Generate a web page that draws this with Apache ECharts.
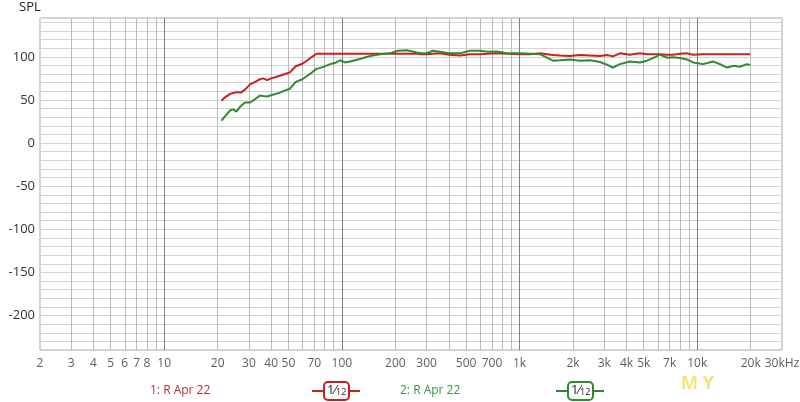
<!DOCTYPE html>
<html>
<head>
<meta charset="utf-8">
<script src="https://cdn.jsdelivr.net/npm/echarts@6/dist/echarts.min.js"></script>
<style>html,body{margin:0;padding:0;background:#fff;}#c{width:800px;height:402px;}</style>
</head>
<body>
<div id="c"></div>
<script>
// Frequencies (Hz) shared by both measurements
const freqs = [21,22,23.5,24.5,25.5,27,28.5,30.4,32.5,34.6,36,38,40,44.8,48,51,55,60,64,68,72,78,86,92,97.5,104,111,126,144,164,186,207,232,264,280,300,325,356,400,462,526,599,660,746,849,1005,1150,1303,1427,1542,1689,1921,2188,2491,2833,3104,3354,3672,4180,4758,5211,5636,6167,6749,7300,7993,8750,9460,10780,12260,13420,14690,16000,17390,19050,19800];
// 1: R Apr 22 (red)
const redVals = [49,53,57,58,59,58.5,62,68,71,74,75,73,75,78,80,82,89,92,96,100,103.5,103.5,103.5,103.5,103.5,103.5,103.5,103.5,103.5,103.5,103.5,103.5,103.5,103.5,103,103,103.5,104,102.5,101.5,103,103,103.5,104,103.5,103,103,104,103,102,101.5,101,102,101.5,101,102,100.5,104,102.5,104,103,103,103,102.5,102.5,103.5,104,102.5,103,103,103,103,103,103,103,103];
// 2: R Apr 22 (green)
const greenVals = [26,31,38,39,36.5,43,47,47,51,55,54.5,54,55.5,58.5,61,63,71,74,78,82,86,88,91.5,93,96,93.5,94.5,97.5,101,103,104,107,107.5,105,104,104,107,105.8,104,104,107,107,106,106.2,104,104,103.5,103,99,95.5,96,97,95.5,96,94,91,87.5,91.5,94.5,93.5,95.5,98.5,102.5,99,99.5,98.5,97,93.5,91.5,94.5,91.5,87.5,89.5,88.5,91.5,90.5];

// Vertical grid-line frequencies and x tick labels
const gridFreqs = [3,4,5,6,7,8,9,10,20,30,40,50,60,70,80,90,100,200,300,400,500,600,700,800,900,1000,2000,3000,4000,5000,6000,7000,8000,9000,10000,20000];
const decadeFreqs = [10,100,1000,10000];
const tickValues = [2,3,4,5,6,7,8,10,20,30,40,50,70,100,200,300,500,700,1000,2000,3000,4000,5000,7000,10000,20000,30000];
const tickTexts = ['2','3','4','5','6','7','8','10','20','30','40','50','70','100','200','300','500','700','1k','2k','3k','4k','5k','7k','10k','20k','30kHz'];
const Y_MIN = -240, Y_MAX = 145;

const FONT = '"Open Sans", "Noto Sans", sans-serif';
const chart = echarts.init(document.getElementById('c'), null, {renderer: 'canvas'});

const gridLines = gridFreqs.map(f => ({
  xAxis: f,
  lineStyle: {color: decadeFreqs.includes(f) ? '#7f7f7f' : '#b9b9b9', width: 1, type: 'solid'},
  label: {show: false}
}));

function legendBox(x, color) {
  return [
    {type: 'line', shape: {x1: x, y1: 391, x2: x + 48, y2: 391}, style: {stroke: color, lineWidth: 2}, z: 10},
    {type: 'rect', shape: {x: x + 12, y: 382, width: 25, height: 18, r: 4}, style: {fill: '#fff', stroke: color, lineWidth: 2}, z: 11},
    {type: 'text', x: x + 15, y: 383, z: 12, style: {
      text: '{a|1⁄}{b|12}', fill: '#222',
      rich: {a: {fontSize: 13, fontFamily: FONT, fill: '#222'}, b: {fontSize: 9, fontFamily: FONT, fill: '#222', padding: [5, 0, 0, 0]}}
    }}
  ];
}

chart.setOption({
  animation: false,
  backgroundColor: '#ffffff',
  grid: {left: 40, right: 18, top: 18, bottom: 52, show: true, borderColor: '#a8a8a8', borderWidth: 1},
  xAxis: {
    type: 'log', logBase: 10, min: 2, max: 30000,
    axisLabel: {show: false}, axisTick: {show: false}, axisLine: {show: false},
    splitLine: {show: false}, minorSplitLine: {show: false}
  },
  yAxis: {
    type: 'value', min: Y_MIN, max: Y_MAX, interval: 10,
    axisLine: {show: false}, axisTick: {show: false},
    axisLabel: {
      color: '#333', fontSize: 13, fontFamily: FONT, margin: 5,
      formatter: v => (v % 50 === 0 ? String(v) : '')
    },
    splitLine: {show: true, lineStyle: {color: '#d4d4d4', width: 1}}
  },
  graphic: [
    {type: 'text', x: 19, y: 1, style: {text: 'SPL', fill: '#222', font: '13px ' + FONT}},
    {type: 'text', x: 150, y: 385, style: {text: '1: R Apr 22', fill: '#b83236', font: '12px ' + FONT}},
    {type: 'text', x: 400, y: 385, style: {text: '2: R Apr 22', fill: '#3d9140', font: '12px ' + FONT}},
    {type: 'text', x: 681, y: 375, style: {text: 'M Y', fill: '#f2e57a', font: 'bold 18px ' + FONT}},
    ...legendBox(312, '#cc1f1f'),
    ...legendBox(556, '#2f8a2f')
  ],
  series: [
    {
      type: 'line', data: [], silent: true,
      markLine: {silent: true, symbol: ['none', 'none'], animation: false, data: gridLines}
    },
    {
      type: 'scatter', silent: true, clip: false, symbolSize: 1,
      itemStyle: {color: 'rgba(0,0,0,0)'},
      label: {
        show: true, position: 'bottom', distance: 7, color: '#333', fontSize: 12, fontFamily: FONT,
        formatter: p => tickTexts[p.dataIndex]
      },
      data: tickValues.map(f => [f, Y_MIN])
    },
    {
      name: '1: R Apr 22', type: 'line', showSymbol: false, smooth: false,
      lineStyle: {color: '#cc1f1f', width: 2}, itemStyle: {color: '#cc1f1f'},
      data: freqs.map((f, i) => [f, redVals[i]]), z: 5
    },
    {
      name: '2: R Apr 22', type: 'line', showSymbol: false, smooth: false,
      lineStyle: {color: '#2f8a2f', width: 2}, itemStyle: {color: '#2f8a2f'},
      data: freqs.map((f, i) => [f, greenVals[i]]), z: 6
    }
  ]
});
</script>
</body>
</html>
